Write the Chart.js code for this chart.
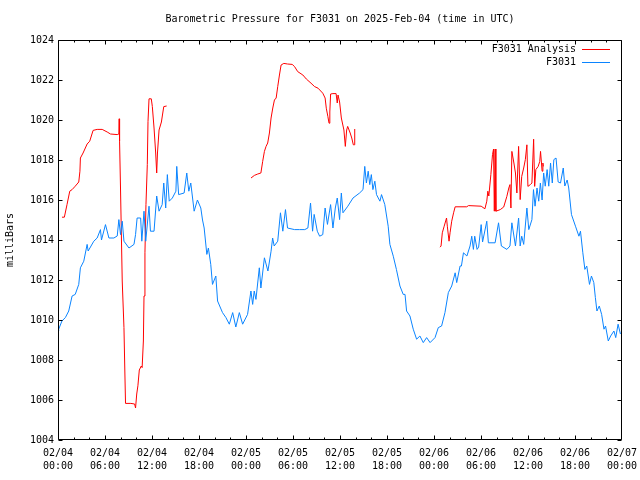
<!DOCTYPE html>
<html>
<head>
<meta charset="utf-8">
<script src="https://cdn.jsdelivr.net/npm/chart.js@4"></script>
<style>
html,body{margin:0;padding:0;background:#fff;}
#wrap{width:640px;height:480px;}
</style>
</head>
<body>
<div id="wrap"><canvas id="c" width="640" height="480"></canvas></div>
<script>
const titleText = "Barometric Pressure for F3031 on 2025-Feb-04 (time in UTC)";
const yTitle = "milliBars";
const seriesNames = ["F3031 Analysis", "F3031"];
const dayLabels = ["02/04","02/04","02/04","02/04","02/05","02/05","02/05","02/05","02/06","02/06","02/06","02/06","02/07"];
const timeLabels = ["00:00","06:00","12:00","18:00","00:00","06:00","12:00","18:00","00:00","06:00","12:00","18:00","00:00"];

// hours since 2025-02-04 00:00 UTC
const anaHours = [0.51,0.81,1.15,1.5,1.8,2.2,2.65,2.8,2.86,3.2,3.72,4.05,4.48,5.0,5.64,6.28,6.7,7.56,7.77,7.81,7.86,7.98,8.2,8.42,8.54,8.62,9.3,9.78,9.9,10.05,10.2,10.38,10.63,10.74,10.9,10.98,11.1,11.23,11.4,11.49,11.62,11.91,12.04,12.26,12.47,12.6,12.7,12.9,13.2,13.5,13.87,
  18,
  24.64,25.07,25.5,25.9,26.13,26.35,26.56,26.77,26.99,27.2,27.42,27.63,27.85,28.05,28.27,28.48,28.83,29.3,29.9,30.2,30.6,31.26,31.7,32.3,32.76,33.2,33.8,34.1,34.25,34.45,34.6,34.7,34.8,35.1,35.5,35.65,35.75,35.95,36.17,36.5,36.68,36.85,36.98,37.3,37.5,37.7,37.83,37.88,
  43,
  48.77,48.9,49.06,49.3,49.6,49.7,49.92,50.05,50.26,50.5,50.7,52.18,52.4,54.02,54.5,54.74,54.87,55.0,55.26,55.47,55.6,55.7,55.8,55.9,56.46,56.9,57.3,57.55,57.7,57.82,57.94,58.2,58.4,58.58,58.8,59.0,59.2,59.45,59.66,59.86,59.99,60.3,60.5,60.72,60.85,61.0,61.3,61.5,61.6,61.8,61.9,61.96];
const anaValues = [1015.14,1015.14,1015.77,1016.44,1016.52,1016.69,1016.9,1017.44,1018.1,1018.35,1018.8,1018.94,1019.48,1019.53,1019.53,1019.4,1019.3,1019.27,1019.3,1020.06,1018.94,1016.6,1011.95,1009.62,1007.3,1005.83,1005.83,1005.8,1005.6,1006.3,1006.71,1007.5,1007.7,1007.62,1008.95,1011.2,1013.36,1015.77,1017.77,1019.93,1021.06,1021.06,1020.68,1019.6,1018.35,1017.35,1018.35,1019.5,1019.9,1020.67,1020.7,
  null,
  1017.1,1017.23,1017.3,1017.35,1017.93,1018.43,1018.68,1018.85,1019.35,1020.1,1020.6,1021.0,1021.1,1021.67,1022.25,1022.75,1022.83,1022.8,1022.78,1022.67,1022.42,1022.25,1022.05,1021.84,1021.67,1021.59,1021.34,1021.1,1020.59,1020.18,1019.84,1020.4,1021.3,1021.32,1021.32,1020.85,1021.25,1020.9,1020.1,1019.5,1018.68,1019.5,1019.68,1019.35,1019.1,1018.76,1018.76,1019.55,
  null,
  1013.64,1013.7,1014.36,1014.69,1015.1,1014.69,1013.94,1014.36,1014.94,1015.36,1015.66,1015.66,1015.72,1015.69,1015.56,1015.94,1016.44,1016.2,1017.27,1018.27,1018.55,1015.44,1018.55,1015.44,1015.52,1015.65,1016.18,1016.6,1016.77,1015.6,1018.43,1017.85,1017.35,1016.35,1018.68,1016.02,1017.18,1017.6,1018.02,1018.76,1016.68,1016.77,1016.85,1019.04,1016.68,1017.52,1017.68,1017.93,1018.43,1017.44,1017.85,1017.68];

const obsHours = [0.0,0.09,0.5,0.94,1.37,1.8,2.2,2.65,2.86,3.29,3.72,3.85,4.57,5.0,5.42,5.55,6.06,6.5,7.13,7.56,7.77,7.98,8.2,8.42,9.06,9.7,9.9,10.1,10.55,10.7,10.98,11.2,11.62,11.8,12.26,12.6,12.9,13.3,13.5,13.75,13.96,14.2,14.6,15.05,15.16,15.4,16.1,16.44,16.7,16.95,17.38,17.8,18.23,18.45,18.66,19.0,19.2,19.5,19.72,20.15,20.37,21.0,21.44,21.87,22.3,22.7,23.15,23.57,24.2,24.63,24.85,25.05,25.27,25.7,25.9,26.35,26.8,27.2,27.4,27.6,28.05,28.4,28.7,29.04,29.3,30.2,30.84,31.5,31.9,32.24,32.5,32.7,33.1,33.4,33.8,34.1,34.4,34.8,35.1,35.4,35.65,35.95,36.17,36.38,37.0,37.66,38.5,38.94,39.16,39.37,39.6,39.8,40.0,40.2,40.45,40.66,41.1,41.3,41.72,42.15,42.37,42.8,43.2,43.65,44.07,44.3,44.5,44.93,45.35,45.78,46.2,46.63,47.06,47.5,48.13,48.55,48.97,49.4,49.83,50.26,50.7,50.9,51.33,51.5,51.76,52.2,52.6,52.82,53.03,53.2,53.5,53.7,54.02,54.2,54.74,54.94,55.8,56.24,56.6,57.3,57.7,57.94,58.4,58.8,59.0,59.2,59.45,59.86,60.1,60.5,60.7,60.9,61.15,61.37,61.58,61.8,62.0,62.2,62.44,62.65,62.88,63.1,63.3,63.58,63.85,64.15,64.5,64.7,65.0,65.2,65.55,66.06,66.5,66.7,67.0,67.26,67.5,67.85,68.1,68.4,68.6,68.8,69.1,69.4,69.7,69.9,70.25,70.55,70.97,71.2,71.5,71.8];
const obsValues = [1009.45,1009.54,1009.95,1010.12,1010.45,1011.2,1011.28,1011.78,1012.61,1012.94,1013.78,1013.45,1013.94,1014.1,1014.52,1014.0,1014.77,1014.1,1014.1,1014.2,1015.02,1014.27,1014.94,1013.94,1013.6,1013.78,1014.27,1015.1,1015.1,1013.94,1015.44,1013.94,1015.69,1014.44,1014.44,1016.2,1015.44,1015.77,1016.85,1015.6,1017.27,1015.94,1016.1,1016.44,1017.68,1016.27,1016.35,1017.35,1016.44,1016.85,1015.44,1016.0,1015.6,1015.0,1014.6,1013.28,1013.6,1012.78,1011.78,1012.2,1010.95,1010.37,1010.12,1009.79,1010.37,1009.65,1010.37,1009.79,1010.28,1011.45,1010.78,1011.45,1011.03,1012.61,1011.6,1013.11,1012.45,1013.44,1014.1,1013.7,1013.94,1015.36,1014.44,1015.52,1014.6,1014.52,1014.52,1014.52,1014.6,1015.85,1014.44,1015.28,1014.44,1014.19,1014.27,1015.6,1014.78,1015.77,1014.6,1015.6,1016.1,1015.02,1016.35,1015.36,1015.69,1016.1,1016.35,1016.52,1017.68,1016.85,1017.44,1016.77,1017.27,1016.52,1016.94,1016.27,1015.94,1016.27,1015.77,1014.69,1013.78,1013.19,1012.53,1011.7,1011.28,1011.28,1010.45,1010.2,1009.54,1009.04,1009.2,1008.87,1009.12,1008.87,1009.12,1009.62,1009.7,1010.37,1011.37,1011.7,1012.36,1011.87,1012.7,1012.7,1013.36,1013.2,1013.7,1014.19,1013.53,1014.19,1013.53,1013.65,1014.77,1013.9,1014.94,1013.86,1013.86,1014.86,1013.7,1013.53,1013.7,1014.86,1013.7,1015.1,1013.7,1014.19,1013.78,1015.6,1014.52,1015.02,1016.52,1015.69,1016.6,1015.94,1016.85,1016.0,1017.35,1016.69,1017.52,1016.69,1017.85,1016.85,1018.02,1018.1,1016.9,1016.85,1017.6,1016.7,1017.0,1016.6,1015.27,1014.69,1014.19,1014.44,1013.36,1012.53,1012.7,1011.78,1012.2,1011.87,1011.12,1010.45,1010.7,1010.28,1009.54,1009.7,1008.95,1009.2,1009.45,1009.12,1009.79,1009.3];

const X_MIN = 0, X_MAX = 72, X_MAJOR = 6, X_MINOR = 2;
const Y_MIN = 1004, Y_MAX = 1024, Y_STEP = 2;
const FONT = "'DejaVu Sans Mono', 'Liberation Mono', monospace";
const RED = "#ff0000", BLUE = "#0a84ff";

function pts(hs, vs){ return hs.map((h,i)=>({x:h, y:vs[i]})); }

const framePlugin = {
  id: 'gnuplotFrame',
  afterDraw(chart){
    const ctx = chart.ctx, xs = chart.scales.x, ys = chart.scales.y;
    const L = Math.round(xs.getPixelForValue(X_MIN)) + 0.5;
    const R = Math.round(xs.getPixelForValue(X_MAX)) - 0.5;
    const T = Math.round(ys.getPixelForValue(Y_MAX)) + 0.5;
    const B = Math.round(ys.getPixelForValue(Y_MIN)) - 0.5;
    ctx.save();
    ctx.strokeStyle = '#000'; ctx.lineWidth = 1;
    ctx.beginPath();
    ctx.rect(L, T, R-L, B-T);
    for (let v = Y_MIN; v <= Y_MAX; v += Y_STEP){
      const p = Math.round(ys.getPixelForValue(v)) + 0.5;
      ctx.moveTo(L, p); ctx.lineTo(L+4, p);
      ctx.moveTo(R, p); ctx.lineTo(R-4, p);
    }
    for (let v = X_MIN; v <= X_MAX; v += X_MINOR){
      const p = Math.min(Math.round(xs.getPixelForValue(v)) + 0.5, R);
      const len = (v % X_MAJOR === 0) ? 4 : 2;
      ctx.moveTo(p, B); ctx.lineTo(p, B-len);
      ctx.moveTo(p, T); ctx.lineTo(p, T+len);
    }
    ctx.stroke();
    // key (legend), gnuplot style: text then line sample
    ctx.font = '10px ' + FONT;
    ctx.fillStyle = '#000';
    ctx.textAlign = 'right';
    ctx.textBaseline = 'middle';
    const cols = [RED, BLUE];
    seriesNames.forEach((n,i)=>{
      const y = 49 + i*13;
      ctx.fillText(n, 576, y);
      ctx.beginPath();
      ctx.strokeStyle = cols[i];
      ctx.moveTo(582, y+0.5); ctx.lineTo(610, y+0.5);
      ctx.stroke();
    });
    ctx.restore();
  }
};

new Chart(document.getElementById('c'), {
  type: 'line',
  data: {
    datasets: [
      { label: seriesNames[1], data: pts(obsHours, obsValues), borderColor: BLUE, borderWidth: 1, pointRadius: 0, tension: 0, fill: false, order: 0 },
      { label: seriesNames[0], data: pts(anaHours, anaValues), borderColor: RED, borderWidth: 1, pointRadius: 0, tension: 0, fill: false, spanGaps: false, order: 1 }
    ]
  },
  options: {
    responsive: false,
    animation: false,
    events: [],
    layout: { padding: { left: 0, right: 18, top: 0, bottom: 0 } },
    plugins: {
      legend: { display: false },
      tooltip: { enabled: false },
      title: {
        display: true, text: titleText, fullSize: false, color: '#000',
        font: { family: FONT, size: 10, weight: 'normal', lineHeight: 1.2 },
        padding: { top: 13, bottom: 15 }
      }
    },
    scales: {
      x: {
        type: 'linear', min: X_MIN, max: X_MAX,
        grid: { display: false, drawTicks: false },
        border: { display: false },
        ticks: {
          stepSize: X_MAJOR, autoSkip: false, maxRotation: 0, padding: 7, color: '#000',
          font: { family: FONT, size: 10, lineHeight: 1.3 },
          callback: (v) => { const i = Math.round(v / X_MAJOR); return [dayLabels[i], timeLabels[i]]; }
        },
        afterFit: (s) => { s.height = 40; s.paddingLeft = 0; s.paddingRight = 0; }
      },
      y: {
        type: 'linear', min: Y_MIN, max: Y_MAX,
        grid: { display: false, drawTicks: false },
        border: { display: false },
        ticks: { stepSize: Y_STEP, padding: 4, color: '#000', font: { family: FONT, size: 10 }, callback: (v) => String(v) },
        title: { display: true, text: yTitle, color: '#000', padding: { top: 4, bottom: 0 }, font: { family: FONT, size: 10, lineHeight: 1.2 } },
        afterFit: (s) => { s.width = 58; }
      }
    }
  },
  plugins: [framePlugin]
});
</script>
</body>
</html>
